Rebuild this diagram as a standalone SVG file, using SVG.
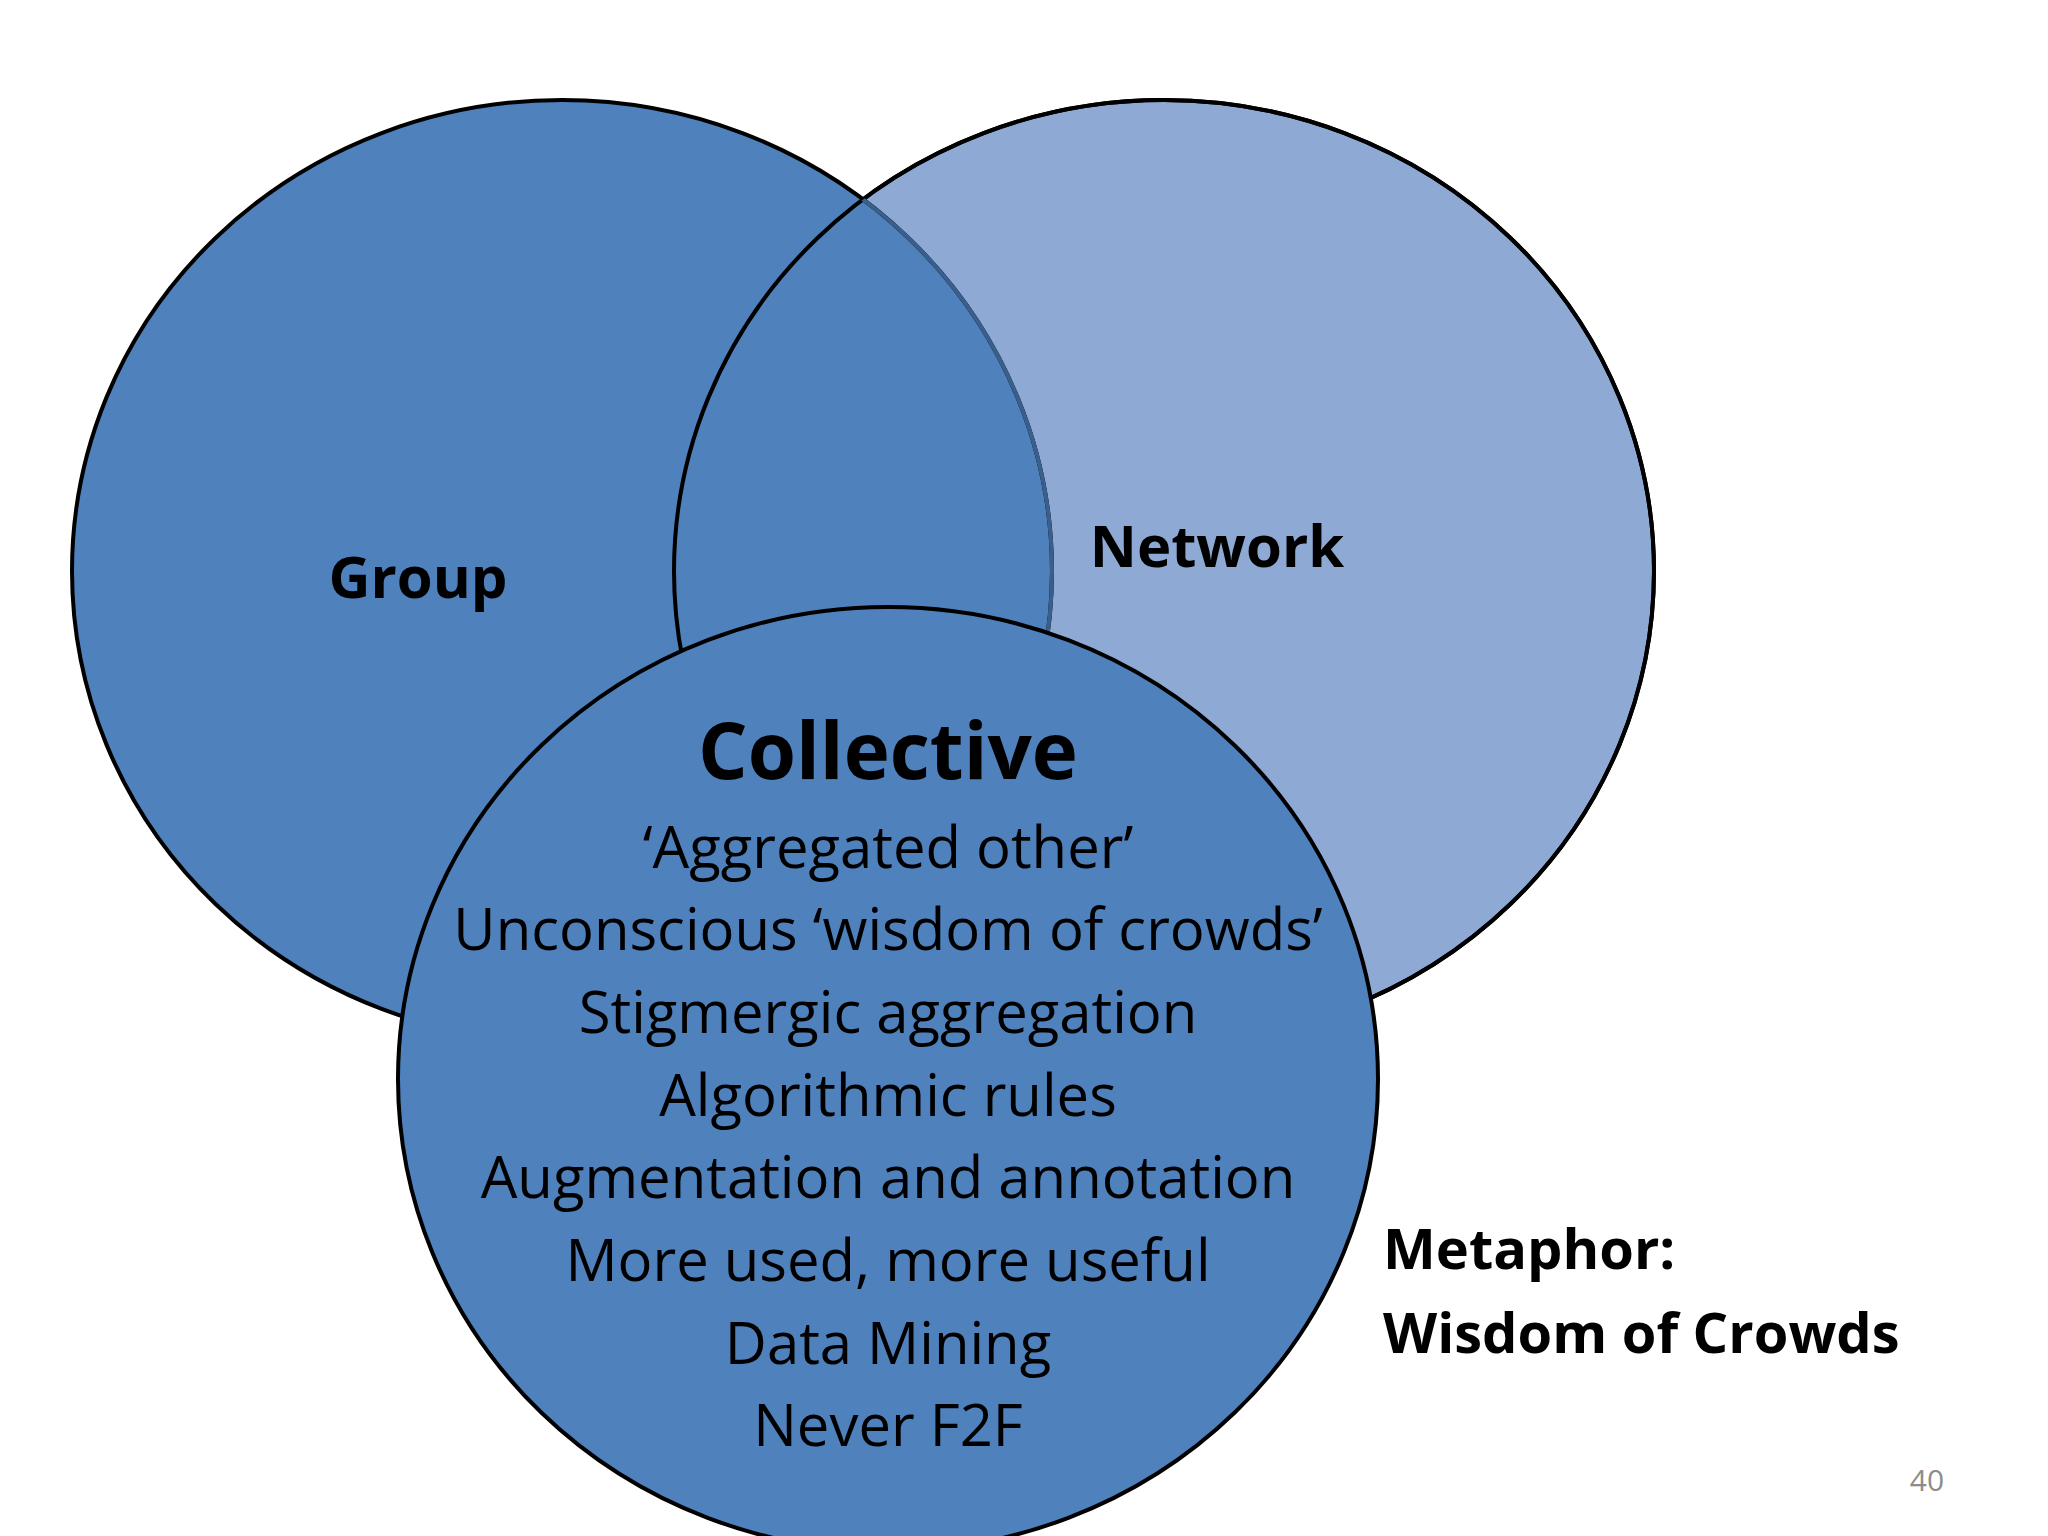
<svg xmlns="http://www.w3.org/2000/svg" width="2048" height="1536" viewBox="0 0 2048 1536">
<style>
.t{font-family:"Open Sans","Liberation Sans",sans-serif;fill:#000}
.b{font-weight:bold}
</style>
<defs>
<clipPath id="netclip"><ellipse cx="1164" cy="571" rx="490" ry="471"/></clipPath>
</defs>
<rect width="2048" height="1536" fill="#fff"/>
<g id="network"><ellipse cx="1164" cy="571" rx="490" ry="471" fill="#8eaad4" stroke="#000" stroke-width="4"/></g>
<g id="group">
<ellipse cx="562" cy="571" rx="490" ry="471" fill="#4f81bd" stroke="#000" stroke-width="4"/>
<ellipse cx="1164" cy="571" rx="490" ry="471" fill="none" stroke="#000" stroke-width="4"/>
<ellipse cx="562" cy="571" rx="490" ry="471" fill="none" stroke="#3a5f8d" stroke-width="4" clip-path="url(#netclip)"/>
</g>
<g id="collective"><ellipse cx="888" cy="1079" rx="490" ry="472" fill="#4f81bd" stroke="#000" stroke-width="4"/></g>
<g id="labels">
<text class="t b" x="418" y="598" font-size="58" text-anchor="middle">Group</text>
<text class="t b" x="1217" y="567" font-size="58" text-anchor="middle">Network</text>
<text class="t b" x="888" y="779" font-size="78" text-anchor="middle">Collective</text>
<g font-size="58" text-anchor="middle">
<text class="t" x="888" y="868">‘Aggregated other’</text>
<text class="t" x="888" y="950">Unconscious ‘wisdom of crowds’</text>
<text class="t" x="888" y="1033">Stigmergic aggregation</text>
<text class="t" x="888" y="1116">Algorithmic rules</text>
<text class="t" x="888" y="1198">Augmentation and annotation</text>
<text class="t" x="888" y="1281">More used, more useful</text>
<text class="t" x="888" y="1364">Data Mining</text>
<text class="t" x="888" y="1446">Never F2F</text>
</g>
<text class="t b" x="1383" y="1269" font-size="56">Metaphor:</text>
<text class="t b" x="1383" y="1353" font-size="56">Wisdom of Crowds</text>
<text x="1927" y="1491" font-size="30" font-family="Open Sans,Liberation Sans,sans-serif" fill="#8c8c8c" text-anchor="middle">40</text>
</g>
</svg>
